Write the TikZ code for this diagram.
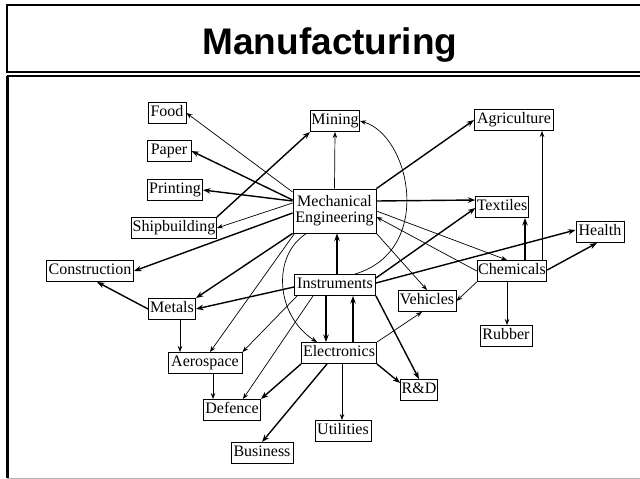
\documentclass[tikz,border=0pt]{standalone}
\usepackage{fontspec}
\setmainfont{Liberation Serif}
\newfontfamily\titlefont{Liberation Sans}
\usetikzlibrary{arrows.meta,calc}
\begin{document}
\begin{tikzpicture}[x=1pt,y=-1pt,
  box/.style={draw, line width=0.9pt, font=\fontsize{16}{16}\selectfont, inner xsep=1pt, inner ysep=3pt, text height=11pt, text depth=3.5pt, minimum height=21pt},
  bigbox/.style={draw, line width=0.9pt, font=\fontsize{16}{16}\selectfont, align=center, minimum width=83pt, minimum height=44pt, inner sep=2pt},
  tarrow/.style={-{Stealth[length=6pt,width=4.5pt]}, line width=0.7pt},
  barrow/.style={-{Stealth[length=7.5pt,width=5.5pt]}, line width=1.4pt},
]
\useasboundingbox (0,0) rectangle (640,479);
\fill[white] (0,0) rectangle (640,479);
\clip (0,0) rectangle (640,479);
% frames
\draw[line width=2pt] (7,5) rectangle (660,72);
\draw[line width=2pt] (660,76) -- (7,76);
\draw[line width=3pt] (7,76) -- (7,478);
\draw[line width=1pt, gray!60] (7,478) -- (660,478);
\node[anchor=base, font=\titlefont\bfseries\fontsize{37}{40}\selectfont, inner sep=0pt] (title) at (330,54) {Manufacturing};

% nodes
\node[box, minimum width=38pt] (food) at (167,113) {Food};
\node[box, minimum width=44pt] (paper) at (169,151) {Paper};
\node[box, minimum width=55pt] (print) at (175,190) {Printing};
\node[box, minimum width=85pt] (ship) at (174,228) {Shipbuilding};
\node[box, minimum width=87pt] (constr) at (90,271) {Construction};
\node[box, minimum width=49pt] (mining) at (335,121) {Mining};
\node[bigbox] (me) at (334.5,211) {Mechanical\\Engineering};
\node[box, minimum width=79pt] (agri) at (514,120) {Agriculture};
\node[box, minimum width=51pt] (text) at (502,207) {Textiles};
\node[box, minimum width=48pt] (health) at (600,232) {Health};
\node[box, minimum width=68pt] (chem) at (512,271) {Chemicals};
\node[box, minimum width=81pt] (instr) at (335,285) {Instruments};
\node[box, minimum width=58pt] (veh) at (427,301) {Vehicles};
\node[box, minimum width=52pt] (rubber) at (506,336) {Rubber};
\node[box, minimum width=75pt] (elec) at (339,353) {Electronics};
\node[box, minimum width=36pt] (rd) at (419,390) {R\&D};
\node[box, minimum width=56pt] (util) at (343,431) {Utilities};
\node[box, minimum width=47pt] (metals) at (172,309) {Metals};
\node[box, minimum width=74pt] (aero) at (205,363) {Aerospace};
\node[box, minimum width=57pt] (def) at (232,410) {Defence};
\node[box, minimum width=62pt] (bus) at (262,453) {Business};

% Mechanical Engineering outputs
\draw[tarrow] ($(me.west)+(0,-19)$) -- (food.east);
\draw[barrow] ($(me.west)+(0,-11)$) -- (paper.east);
\draw[barrow] ($(me.west)+(0,-10)$) -- (print.east);
\draw[tarrow] ($(me.west)+(0,-8)$) -- (ship.east);
\draw[barrow] ($(me.west)+(0,2)$) -- (constr.east);
\draw[tarrow] (me.north) -- (mining.south);
\draw[barrow] (me.north east) -- (agri.west);
\draw[barrow] ($(me.east)+(0,-10)$) -- ($(text.west)+(0,-7)$);
\draw[tarrow] (me.east) -- ($(chem.north)+(-5,0)$);
\draw[tarrow] (chem.west) -- ($(me.east)+(0,6)$);
\draw[tarrow] (me.south east) -- (veh.north);
\draw[barrow] (me.south west) -- (metals.north east);
\draw[tarrow] ($(me.south west)+(2,0)$) -- ($(aero.north)+(5,0)$);
\draw[tarrow] ($(me.south)+(-28,0)$) .. controls (272,255) and (275,315) .. ($(elec.north)+(-22,0)$);

% Instruments
\draw[barrow] ($(instr.north)+(2,0)$) -- ($(me.south)+(2.5,0)$);
\draw[tarrow] ($(instr.north)+(20,0)$) .. controls (435,250) and (410,135) .. (mining.east);
\draw[barrow] ($(instr.east)+(0,-7)$) -- ($(text.west)+(0,1)$);
\draw[barrow] ($(instr.east)+(0,-2)$) -- ($(health.west)+(0,-2)$);
\draw[barrow] ($(instr.west)+(0,2)$) -- (metals.east);
\draw[barrow] (instr.south east) -- (rd.north);
\draw[tarrow] ($(instr.south west)+(3,0)$) -- (aero.north east);
\draw[tarrow] ($(instr.south)+(-22,0)$) -- ($(def.north east)+(-18,0)$);
\draw[barrow] ($(instr.south)+(-9,0)$) -- ($(elec.north)+(-13,0)$);
\draw[barrow] ($(elec.north)+(14,0)$) -- ($(instr.south)+(18,0)$);

% Electronics
\draw[barrow] (elec.south east) -- ($(rd.west)+(0,-7)$);
\draw[tarrow] (elec.north east) -- ($(veh.south)+(-5,0)$);
\draw[tarrow] ($(elec.south)+(3,0)$) -- ($(util.north)+(-1,0)$);
\draw[barrow] (elec.south west) -- (def.north east);
\draw[barrow] ($(elec.south)+(-12,0)$) -- (bus.north);

% Metals, Aerospace
\draw[barrow] (metals.west) -- ($(constr.south)+(7,0)$);
\draw[tarrow] ($(metals.south)+(8,0)$) -- ($(aero.north)+(-25,0)$);
\draw[tarrow] ($(aero.south)+(8,0)$) -- ($(def.north)+(-19,0)$);

% Shipbuilding
\draw[barrow] (ship.north east) -- (mining.south west);

% Chemicals
\draw[tarrow] ($(chem.north)+(30,0)$) -- ($(agri.south)+(28,0)$);
\draw[barrow] ($(chem.north)+(13,0)$) -- ($(text.south)+(23,0)$);
\draw[barrow] ($(chem.east)+(0,-1)$) -- ($(health.south)+(-3,0)$);
\draw[tarrow] (chem.south west) -- (veh.east);
\draw[tarrow] ($(chem.south)+(-5,0)$) -- ($(rubber.north)+(1,0)$);
\end{tikzpicture}
\end{document}
